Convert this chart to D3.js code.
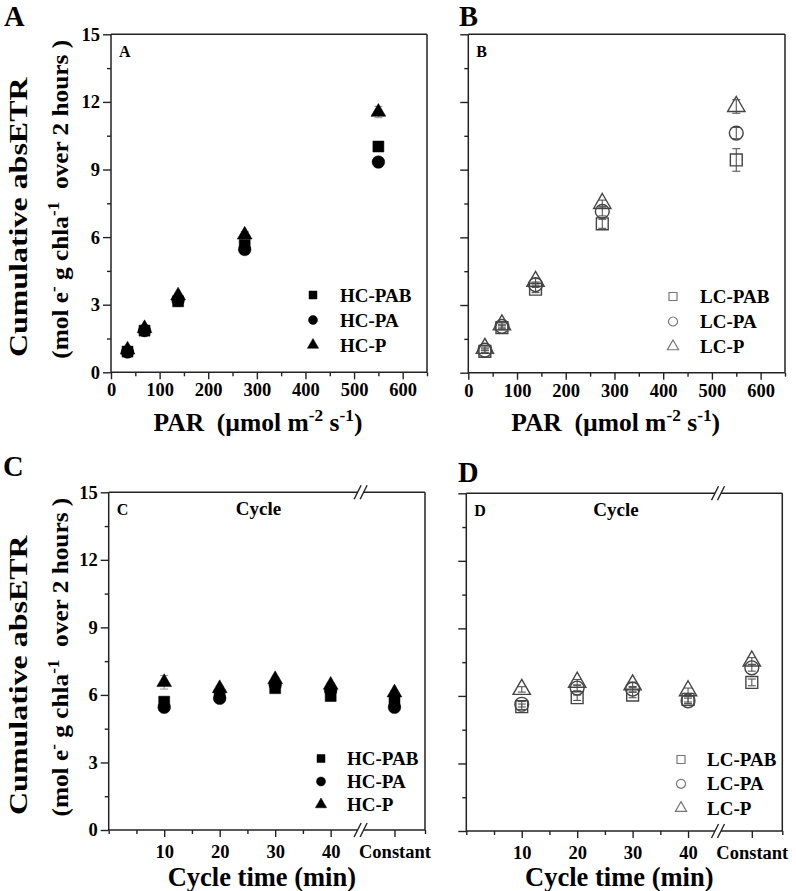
<!DOCTYPE html>
<html><head><meta charset="utf-8">
<script src="https://cdn.jsdelivr.net/npm/d3@7"></script>
<style>
html,body{margin:0;padding:0;background:#fff;}
svg{display:block;}
text{font-family:"Liberation Serif","Times New Roman",serif;font-weight:bold;fill:#000;white-space:pre;}
.tick text{font-size:18.5px;}
</style></head><body>
<svg id="chart" width="796" height="891"></svg>
<script>
// ---------- data ----------
const parLevels = [34, 69, 138, 275, 550];
const parTicks = [0, 100, 200, 300, 400, 500, 600];
const parMinorTicks = [50, 150, 250, 350, 450, 550, 650];
const yTicks = [0, 3, 6, 9, 12, 15];
const yMinorTicks = [1.5, 4.5, 7.5, 10.5, 13.5];
const cycleLabels = ["10", "20", "30", "40", "Constant"];
const cyclePositions = [10, 20, 30, 40, 51.5];
const cycleMinorTicks = [0, 5, 15, 25, 35, 57];
const cycleBreak = 45.4;

const hcNames = ["HC-PAB", "HC-PA", "HC-P"];
const lcNames = ["LC-PAB", "LC-PA", "LC-P"];

// Panel A: high CO2, PAR response
const hcPAB_par = [0.92, 1.85, 3.15, 5.65, 10.02];
const hcPA_par  = [0.90, 1.85, 3.20, 5.45, 9.33];
const hcP_par   = [1.00, 1.95, 3.40, 6.10, 11.55];
const hcPAB_parErr = [0.05, 0.08, 0.10, 0.15, 0.20];
const hcPA_parErr  = [0.05, 0.08, 0.10, 0.15, 0.20];
const hcP_parErr   = [0.05, 0.08, 0.10, 0.15, 0.25];

// Panel B: low CO2, PAR response
const lcPAB_par = [0.95, 2.00, 3.70, 6.60, 9.43];
const lcPA_par  = [1.00, 2.05, 3.90, 7.15, 10.62];
const lcP_par   = [1.08, 2.12, 4.05, 7.50, 11.80];
const lcPAB_parErr = [0.10, 0.10, 0.15, 0.20, 0.50];
const lcPA_parErr  = [0.10, 0.10, 0.12, 0.20, 0.25];
const lcP_parErr   = [0.10, 0.10, 0.12, 0.15, 0.30];

// Panel C: high CO2, cycle time
const hcPAB_cyc = [5.70, 6.00, 6.30, 5.95, 5.70];
const hcPA_cyc  = [5.45, 5.85, 6.45, 6.20, 5.45];
const hcP_cyc   = [6.56, 6.29, 6.69, 6.44, 6.10];
const hcPAB_cycErr = [0.15, 0.10, 0.10, 0.10, 0.10];
const hcPA_cycErr  = [0.10, 0.10, 0.10, 0.10, 0.10];
const hcP_cycErr   = [0.30, 0.10, 0.10, 0.10, 0.10];

// Panel D: low CO2, cycle time
const lcPAB_cyc = [5.52, 5.92, 6.04, 5.85, 6.60];
const lcPA_cyc  = [5.63, 6.35, 6.30, 5.78, 7.25];
const lcP_cyc   = [6.29, 6.61, 6.49, 6.23, 7.55];
const lcPAB_cycErr = [0.12, 0.12, 0.12, 0.12, 0.15];
const lcPA_cycErr  = [0.12, 0.12, 0.12, 0.12, 0.15];
const lcP_cycErr   = [0.12, 0.12, 0.12, 0.12, 0.15];

// ---------- drawing ----------
const svg = d3.select("#chart");
const shapes = [d3.symbolSquare, d3.symbolCircle, d3.symbolTriangle];
const filledSizes = [121, 125, 95];
const hollowSizes = [140, 150, 130];
const legendFilledSizes = [64, 64, 55];
const legendHollowSizes = [64, 64, 55];
const axisColor = "#222";

const panels = [
  {letter: "A", l: 111, r: 427, t: 34.3, b: 372.3, kind: "par", filled: true, showY: true,
   names: hcNames, values: [hcPAB_par, hcPA_par, hcP_par], errs: [hcPAB_parErr, hcPA_parErr, hcP_parErr],
   bigLetter: [4, 26], legend: {sx: 313, tx: 340, y0: 295, dy: 25}},
  {letter: "B", l: 468.3, r: 785, t: 34.3, b: 372.7, kind: "par", filled: false, showY: false,
   names: lcNames, values: [lcPAB_par, lcPA_par, lcP_par], errs: [lcPAB_parErr, lcPA_parErr, lcP_parErr],
   bigLetter: [459, 26], legend: {sx: 673, tx: 700, y0: 296.5, dy: 25}},
  {letter: "C", l: 108.7, r: 425, t: 492.3, b: 830, kind: "cyc", filled: true, showY: true,
   names: hcNames, values: [hcPAB_cyc, hcPA_cyc, hcP_cyc], errs: [hcPAB_cycErr, hcPA_cycErr, hcP_cycErr],
   bigLetter: [3, 476], legend: {sx: 321, tx: 347, y0: 758.5, dy: 23}},
  {letter: "D", l: 466.3, r: 782.3, t: 493.3, b: 831, kind: "cyc", filled: false, showY: false,
   names: lcNames, values: [lcPAB_cyc, lcPA_cyc, lcP_cyc], errs: [lcPAB_cycErr, lcPA_cycErr, lcP_cycErr],
   bigLetter: [458, 482], legend: {sx: 681, tx: 707, y0: 759.5, dy: 24.3}}
];

function sup(t, parts, fs) {
  let raised = false;
  parts.forEach(p => {
    const ts = t.append("tspan").text(p.s);
    if (p.sup) {
      ts.attr("font-size", fs * 0.68).attr("dy", raised ? 0 : -fs * 0.38);
      raised = true;
    } else {
      ts.attr("font-size", fs);
      if (raised) ts.attr("dy", fs * 0.38);
      raised = false;
    }
  });
}

function drawPanel(p) {
  const g = svg.append("g");
  const isPar = p.kind === "par";
  const x = d3.scaleLinear().domain(isPar ? [0, 650] : [0, 57]).range([p.l, p.r]);
  const y = d3.scaleLinear().domain([0, 15]).range([p.b, p.t]);
  const xPos = isPar ? parLevels : cyclePositions;

  // y axis
  const ya = g.append("g").attr("transform", `translate(${p.l},0)`)
    .call(d3.axisLeft(y).tickValues(yTicks).tickSize(8).tickPadding(3)
      .tickFormat(p.showY ? d3.format("d") : () => ""));
  const yam = g.append("g").attr("transform", `translate(${p.l},0)`)
    .call(d3.axisLeft(y).tickValues(yMinorTicks).tickSize(4).tickFormat(() => ""));

  // x axis
  let xa, xam;
  if (isPar) {
    xa = g.append("g").attr("transform", `translate(0,${p.b})`)
      .call(d3.axisBottom(x).tickValues(parTicks).tickSize(7).tickPadding(4).tickFormat(d3.format("d")));
    xam = g.append("g").attr("transform", `translate(0,${p.b})`)
      .call(d3.axisBottom(x).tickValues(parMinorTicks).tickSize(4).tickFormat(() => ""));
  } else {
    xa = g.append("g").attr("transform", `translate(0,${p.b})`)
      .call(d3.axisBottom(x).tickValues(cyclePositions).tickSize(7).tickPadding(8)
        .tickFormat((d, i) => cycleLabels[i]));
    xam = g.append("g").attr("transform", `translate(0,${p.b})`)
      .call(d3.axisBottom(x).tickValues(cycleMinorTicks).tickSize(4).tickFormat(() => ""));
  }
  [ya, yam, xa, xam].forEach(a => {
    a.select(".domain").remove();
    a.attr("font-family", null).attr("font-size", null);
    a.selectAll("line").attr("stroke", axisColor).attr("stroke-width", 1.4);
    a.selectAll("text").attr("fill", "#000");
    a.selectAll(".tick text").filter(function () { return this.textContent === ""; }).remove();
  });

  // frame
  const fr = g.append("g").attr("stroke", axisColor).attr("stroke-width", 1.5).attr("fill", "none");
  fr.append("line").attr("x1", p.l).attr("x2", p.l).attr("y1", p.t).attr("y2", p.b);
  fr.append("line").attr("x1", p.r).attr("x2", p.r).attr("y1", p.t).attr("y2", p.b);
  if (isPar) {
    fr.append("line").attr("x1", p.l).attr("x2", p.r).attr("y1", p.t).attr("y2", p.t);
    fr.append("line").attr("x1", p.l).attr("x2", p.r).attr("y1", p.b).attr("y2", p.b);
  } else {
    const xb = x(cycleBreak);
    [p.t, p.b].forEach(yy => {
      fr.append("line").attr("x1", p.l).attr("x2", xb - 3).attr("y1", yy).attr("y2", yy);
      fr.append("line").attr("x1", xb + 3).attr("x2", p.r).attr("y1", yy).attr("y2", yy);
      [-3, 3].forEach(o => {
        fr.append("line").attr("x1", xb + o - 3.5).attr("y1", yy + 7)
          .attr("x2", xb + o + 3.5).attr("y2", yy - 7).attr("stroke-width", 1.4);
      });
    });
    g.append("text").attr("x", x(27)).attr("y", p.t + 23)
      .attr("text-anchor", "middle").attr("font-size", 19).text("Cycle");
  }

  // error bars and markers
  const markCol = p.filled ? "#000" : "#444";
  const errCol = p.filled ? "#999" : "#555";
  const order = [0, 1, 2];
  order.forEach(si => {
    const vals = p.values[si], errs = p.errs[si];
    const eg = g.append("g").attr("stroke", errCol).attr("stroke-width", 1.1);
    vals.forEach((v, i) => {
      const cx = x(xPos[i]);
      eg.append("line").attr("x1", cx).attr("x2", cx).attr("y1", y(v - errs[i])).attr("y2", y(v + errs[i]));
      eg.append("line").attr("x1", cx - 4).attr("x2", cx + 4).attr("y1", y(v - errs[i])).attr("y2", y(v - errs[i]));
      eg.append("line").attr("x1", cx - 4).attr("x2", cx + 4).attr("y1", y(v + errs[i])).attr("y2", y(v + errs[i]));
    });
  });
  order.forEach(si => {
    const vals = p.values[si];
    const sym = d3.symbol().type(shapes[si]).size(p.filled ? filledSizes[si] : hollowSizes[si]);
    g.append("g").selectAll("path").data(vals).join("path")
      .attr("d", sym)
      .attr("transform", (v, i) => `translate(${x(xPos[i])},${y(v)})`)
      .attr("fill", p.filled ? markCol : "none")
      .attr("stroke", markCol)
      .attr("stroke-width", p.filled ? 0.5 : 1.4);
  });

  // legend
  p.names.forEach((n, i) => {
    const yy = p.legend.y0 + i * p.legend.dy;
    const sym = d3.symbol().type(shapes[i]).size(p.filled ? legendFilledSizes[i] : legendHollowSizes[i]);
    g.append("path").attr("d", sym).attr("transform", `translate(${p.legend.sx},${yy})`)
      .attr("fill", p.filled ? "#000" : "none").attr("stroke", p.filled ? "#000" : "#777")
      .attr("stroke-width", p.filled ? 0.5 : 1.2);
    g.append("text").attr("x", p.legend.tx).attr("y", yy + 6.5).attr("font-size", 19).text(n);
  });

  // inner letter
  g.append("text").attr("x", p.l + 8).attr("y", p.t + 23).attr("font-size", 16).text(p.letter);
  // big letter
  svg.append("text").attr("x", p.bigLetter[0]).attr("y", p.bigLetter[1]).attr("font-size", 28.5).text(p.letter);

  // x title
  if (isPar) {
    const t = g.append("text").attr("x", (p.l + p.r) / 2 - 11).attr("y", 431).attr("text-anchor", "middle");
    sup(t, [{s: "PAR  (\u00b5mol m"}, {s: "-2", sup: true}, {s: " s"}, {s: "-1", sup: true}, {s: ")"}], 25.5);
  } else {
    g.append("text").attr("x", (p.l + p.r) / 2 - 5).attr("y", 886).attr("text-anchor", "middle")
      .attr("font-size", 26.5).text("Cycle time (min)");
  }

  // y title
  if (p.showY) {
    const mid = (p.t + p.b) / 2;
    const t1 = g.append("text").attr("text-anchor", "middle").attr("font-size", 26).text("Cumulative absETR");
    const t2 = g.append("text").attr("text-anchor", "middle");
    sup(t2, [{s: "(mol e"}, {s: "-", sup: true}, {s: " g chla"}, {s: "-1", sup: true}, {s: "  over 2 hours )"}], 24);
    const w1 = t1.node().getBBox().width, w2 = t2.node().getBBox().width;
    t1.attr("transform", `translate(27,${mid + 14}) rotate(-90) scale(${280 / w1},1)`);
    t2.attr("transform", `translate(68,${mid - 4}) rotate(-90) scale(${319 / w2},1)`);
  }
}

panels.forEach(drawPanel);
</script>
</body></html>
